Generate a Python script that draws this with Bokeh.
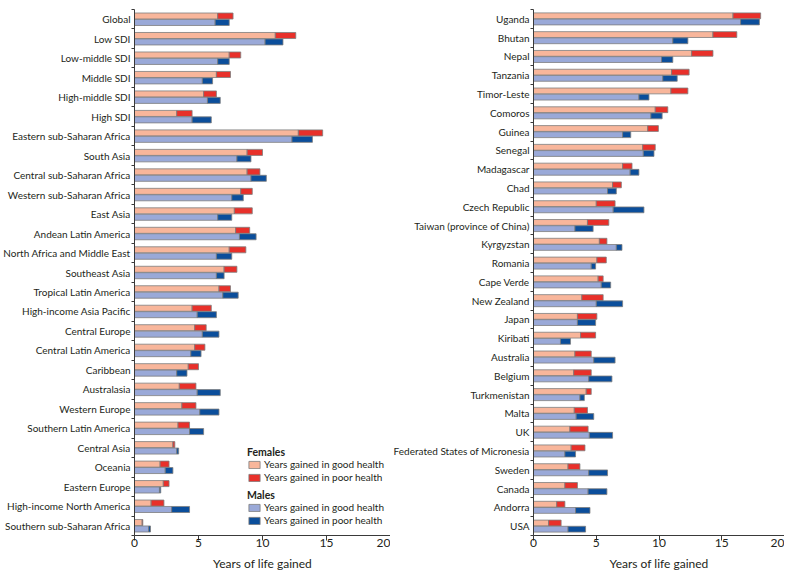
from bokeh.plotting import figure
from bokeh.models import (ColumnDataSource, Range1d, FixedTicker, Legend, LegendItem)
from bokeh.transform import dodge
from bokeh.layouts import row
from bokeh.embed import file_html
from bokeh.resources import INLINE

# ---------------- data (top-to-bottom order) ----------------
regions = ["Global", "Low SDI", "Low-middle SDI", "Middle SDI", "High-middle SDI", "High SDI",
           "Eastern sub-Saharan Africa", "South Asia", "Central sub-Saharan Africa",
           "Western sub-Saharan Africa", "East Asia", "Andean Latin America",
           "North Africa and Middle East", "Southeast Asia", "Tropical Latin America",
           "High-income Asia Pacific", "Central Europe", "Central Latin America", "Caribbean",
           "Australasia", "Western Europe", "Southern Latin America", "Central Asia", "Oceania",
           "Eastern Europe", "High-income North America", "Southern sub-Saharan Africa"]
reg_f_good = [6.5, 11.0, 7.4, 6.4, 5.4, 3.3, 12.8, 8.8, 8.8, 8.3, 7.8, 7.9, 7.4, 7.0, 6.6,
              4.5, 4.7, 4.7, 4.2, 3.5, 3.7, 3.4, 3.0, 2.0, 2.25, 1.3, 0.6]
reg_f_poor = [1.2, 1.6, 0.9, 1.1, 1.0, 1.2, 1.9, 1.2, 1.0, 0.9, 1.4, 1.1, 1.3, 1.0, 0.9,
              1.5, 0.9, 0.8, 0.8, 1.3, 1.1, 0.9, 0.15, 0.7, 0.45, 1.0, 0.05]
reg_m_good = [6.3, 10.2, 6.5, 5.3, 5.7, 4.5, 12.3, 8.0, 9.1, 7.6, 6.5, 8.2, 6.4, 6.4, 6.9,
              4.9, 5.3, 4.4, 3.3, 4.9, 5.1, 4.3, 3.3, 2.4, 1.95, 2.9, 1.1]
reg_m_poor = [1.1, 1.4, 0.9, 0.8, 1.0, 1.5, 1.6, 1.1, 1.2, 0.9, 1.1, 1.3, 1.2, 0.6, 1.2,
              1.5, 1.3, 0.8, 0.8, 1.8, 1.5, 1.1, 0.15, 0.6, 0.1, 1.4, 0.15]

countries = ["Uganda", "Bhutan", "Nepal", "Tanzania", "Timor-Leste", "Comoros", "Guinea",
             "Senegal", "Madagascar", "Chad", "Czech Republic", "Taiwan (province of China)",
             "Kyrgyzstan", "Romania", "Cape Verde", "New Zealand", "Japan", "Kiribati",
             "Australia", "Belgium", "Turkmenistan", "Malta", "UK",
             "Federated States of Micronesia", "Sweden", "Canada", "Andorra", "USA"]
cty_f_good = [15.9, 14.3, 12.6, 11.0, 10.95, 9.7, 9.1, 8.7, 7.1, 6.3, 5.0, 4.3, 5.25, 5.05,
              5.15, 3.85, 3.5, 3.75, 3.3, 3.2, 4.2, 3.25, 2.9, 3.0, 2.75, 2.5, 1.85, 1.2]
cty_f_poor = [2.2, 1.9, 1.7, 1.4, 1.35, 1.0, 0.85, 1.0, 0.75, 0.7, 1.5, 1.7, 0.6, 0.75,
              0.4, 1.7, 1.55, 1.2, 1.3, 1.4, 0.4, 1.05, 1.45, 1.1, 0.95, 1.0, 0.65, 1.0]
cty_m_good = [16.5, 11.1, 10.2, 10.3, 8.4, 9.35, 7.1, 8.75, 7.7, 5.9, 6.35, 3.3, 6.6, 4.6,
              5.4, 5.0, 3.5, 2.15, 4.8, 4.4, 3.7, 3.4, 4.45, 2.5, 4.4, 4.35, 3.35, 2.75]
cty_m_poor = [1.5, 1.2, 0.9, 1.15, 0.8, 0.9, 0.65, 0.85, 0.7, 0.7, 2.45, 1.45, 0.45, 0.35,
              0.75, 2.1, 1.45, 0.8, 1.7, 1.85, 0.35, 1.4, 1.85, 0.85, 1.5, 1.5, 1.15, 1.4]

x_ticks = [0, 5, 10, 15, 20]
x_title = "Years of life gained"
legend_groups = ["Females", "Males"]
legend_labels = ["Years gained in good health", "Years gained in poor health"]

# ---------------- style ----------------
FONT = "Lato"
FS = "10px"
TXT = "#231f20"
AXC = "#3a3a3a"
C_FG, C_FP = "#f8b69b", "#e8302a"
C_MG, C_MP = "#9aa9d8", "#0b4e9b"
OUTLINE = "#7d7d7d"
BAR_H = 0.31
OFF = 0.165


def make_panel(names, fg, fp, mg, mp, width, left_border, right_border, with_legend):
    n = len(names)
    pos = [n - 1 - i for i in range(n)]
    src = ColumnDataSource(dict(pos=pos, name=names, fg=fg, fp=fp, mg=mg, mp=mp))
    p = figure(width=width, height=573, output_backend="svg", toolbar_location=None,
               x_range=Range1d(x_ticks[0], x_ticks[-1]), y_range=Range1d(-0.5, n - 0.5),
               min_border_left=left_border, min_border_right=right_border,
               min_border_top=9, min_border_bottom=36)
    p.outline_line_color = None
    p.xgrid.visible = False
    p.ygrid.visible = False

    fr = p.hbar_stack(["fg", "fp"], y=dodge("pos", OFF), height=BAR_H, source=src,
                      fill_color=[C_FG, C_FP], line_color=OUTLINE, line_width=0.8)
    mr = p.hbar_stack(["mg", "mp"], y=dodge("pos", -OFF), height=BAR_H, source=src,
                      fill_color=[C_MG, C_MP], line_color=OUTLINE, line_width=0.8)

    xa = p.xaxis[0]
    xa.ticker = FixedTicker(ticks=x_ticks)
    xa.axis_label = x_title
    xa.axis_label_text_font = FONT
    xa.axis_label_text_font_style = "normal"
    xa.axis_label_text_font_size = "12px"
    xa.axis_label_text_color = TXT
    xa.axis_label_standoff = 6
    xa.major_label_text_font = FONT
    xa.major_label_text_font_size = "12px"
    xa.major_label_text_color = TXT
    xa.major_label_standoff = -2
    xa.axis_line_color = AXC
    xa.major_tick_line_color = AXC
    xa.major_tick_out = 5
    xa.major_tick_in = 0
    xa.minor_tick_line_color = None

    ya = p.yaxis[0]
    ya.ticker = FixedTicker(ticks=pos, minor_ticks=[k - 0.5 for k in range(n + 1)])
    ya.major_label_overrides = {pv: nm for pv, nm in zip(pos, names)}
    ya.major_label_text_font = FONT
    ya.major_label_text_font_size = FS
    ya.major_label_text_color = TXT
    ya.major_label_standoff = 1
    ya.major_tick_out = 0
    ya.major_tick_in = 0
    ya.major_tick_line_color = None
    ya.minor_tick_out = 3
    ya.minor_tick_in = 0
    ya.minor_tick_line_color = AXC
    ya.axis_line_color = AXC

    if with_legend:
        for grp, rends, yloc in ((legend_groups[0], fr, 52), (legend_groups[1], mr, 9)):
            lg = Legend(items=[LegendItem(label=legend_labels[0], renderers=[rends[0]]),
                               LegendItem(label=legend_labels[1], renderers=[rends[1]])],
                        location=(113, yloc), title=grp,
                        title_text_font=FONT, title_text_font_style="bold",
                        title_text_font_size="10.5px", title_text_color=TXT,
                        title_standoff=0,
                        label_text_font=FONT, label_text_font_size=FS,
                        label_text_color=TXT, label_standoff=3,
                        glyph_width=14, glyph_height=9, label_height=9,
                        spacing=1, padding=1, margin=0,
                        background_fill_alpha=0, border_line_color=None)
            p.add_layout(lg)
    return p


p1 = make_panel(regions, reg_f_good, reg_f_poor, reg_m_good, reg_m_poor, 390, 122, 0, True)
p2 = make_panel(countries, cty_f_good, cty_f_poor, cty_m_good, cty_m_poor, 394, 139, 0, False)

layout = row(p1, p2)
open("out.html", "w").write(file_html(layout, INLINE))
